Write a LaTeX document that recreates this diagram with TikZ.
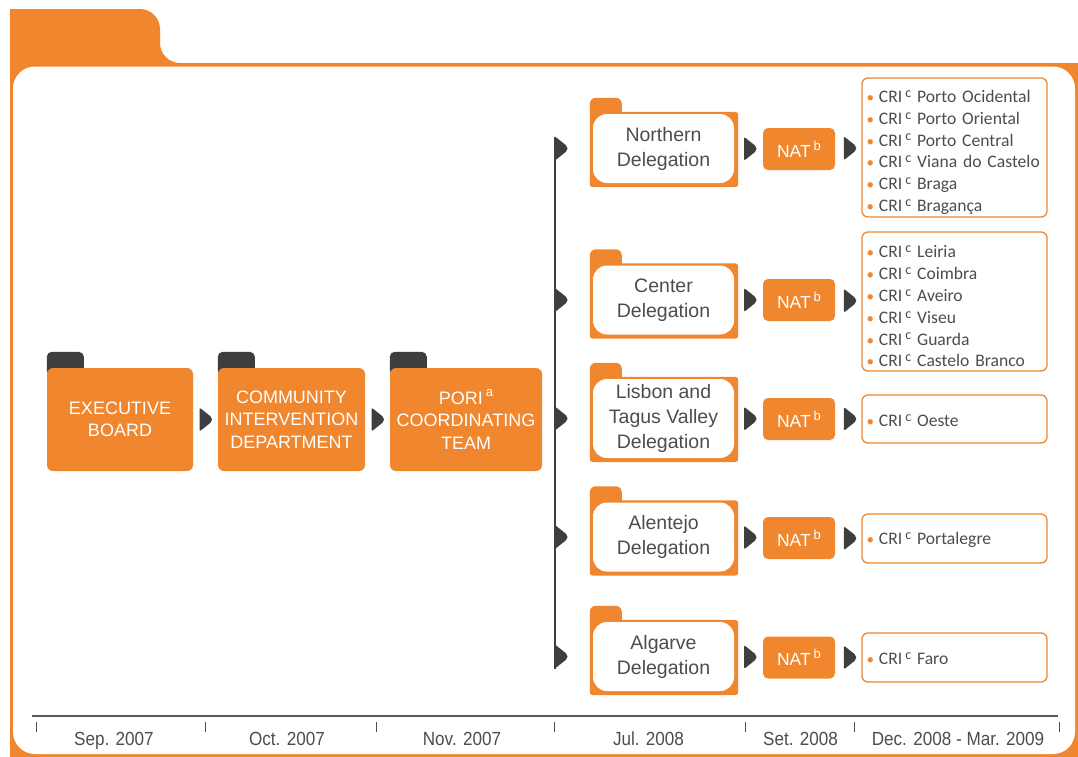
\documentclass[tikz,border=0pt]{standalone}
\usepackage{fontspec}
\setmainfont{Liberation Sans}
\newfontfamily\listfont{Carlito}
\newfontfamily\tlfont[FakeStretch=0.9]{Liberation Sans}
\usetikzlibrary{calc}
\pgfdeclarelayer{bottom}
\pgfdeclarelayer{under}
\pgfsetlayers{bottom,under,main}
\definecolor{orng}{RGB}{240,134,46}
\definecolor{dk}{RGB}{62,62,62}
\definecolor{gtxt}{RGB}{77,77,77}
\newcommand\sups[1]{\raisebox{0.42em}{\fontsize{13}{13}\selectfont #1}}
\newcommand\cri[1]{\mbox{{\color{orng}\fontsize{15}{15}\selectfont•}\hspace{5pt}CRI\hspace{3pt}\raisebox{0.3em}{\fontsize{14}{14}\selectfont c}\ #1}}
\tikzset{
  mainbox/.style={fill=orng, rounded corners=6pt, text=white, align=center, minimum height=103pt, inner sep=0pt, font=\fontsize{18}{22.5}\selectfont},
  delbox/.style={fill=white, rounded corners=14pt, text=gtxt, align=center, minimum width=141pt, minimum height=69pt, inner sep=0pt, font=\fontsize{19.5}{25}\selectfont},
  natbox/.style={fill=orng, rounded corners=5pt, text=white, minimum width=72pt, minimum height=42pt, inner sep=0pt, font=\fontsize{17.5}{20}\selectfont},
  listbox/.style={draw=orng, line width=1.3pt, fill=white, rounded corners=6pt, text=gtxt, align=left, text width=176pt, inner xsep=4.5pt, inner ysep=0pt, font=\listfont\fontsize{17.6}{21.8}\selectfont},
  tri/.pic={\fill[dk, rounded corners=2pt] (-6,-12) -- (6.5,-2) -- (6.5,2) -- (-6,12) -- cycle;},
  tickln/.style={draw=gtxt, line width=0.9pt},
  tlabel/.style={text=gtxt, anchor=base, inner sep=0pt, font=\tlfont\fontsize{19}{19}\selectfont}
}
\begin{document}
\begin{tikzpicture}[x=1pt,y=-1pt]
\useasboundingbox (0,0) rectangle (1078,756);
\begin{pgfonlayer}{bottom}
\fill[white] (0,0) rectangle (1078,756);
% frame
\fill[orng] (10,760) -- (10,9) -- (140,9) .. controls (151,9) and (160,18) .. (160,29) -- (160,43) .. controls (160,54) and (169,63) .. (180,63) -- (1090,63) -- (1090,760) -- cycle;
\fill[white, rounded corners=22pt] (13,66.5) rectangle (1075,754);
\end{pgfonlayer}

% main boxes
\node[mainbox, minimum width=146pt] (exec) at (120,419.5) {EXECUTIVE\\BOARD};
\node[mainbox, minimum width=147pt] (cid) at (291.5,419.5) {COMMUNITY\\INTERVENTION\\DEPARTMENT};
\node[mainbox, minimum width=152pt] (pori) at (466,419.5) {PORI\,\sups{a}\\COORDINATING\\TEAM};
\begin{pgfonlayer}{under}
\foreach \n in {exec,cid,pori}
  \fill[dk, rounded corners=5pt] ($(\n.north west)+(0,8)$) -- ($(\n.north west)+(0,-16)$) -- ($(\n.north west)+(37,-16)$) -- ($(\n.north west)+(37,8)$) -- cycle;
\end{pgfonlayer}
\pic at ($(exec.east)!0.5!(cid.west)$) {tri};
\pic at ($(cid.east)!0.5!(pori.west)$) {tri};

% delegations
\node[delbox] (dN) at (663.5,148.5) {Northern\\Delegation};
\node[delbox] (dC) at (663.5,300) {Center\\Delegation};
\node[delbox, minimum height=79pt] (dL) at (663.5,418.5) {Lisbon and\\Tagus Valley\\Delegation};
\node[delbox] (dA) at (663.5,537) {Alentejo\\Delegation};
\node[delbox] (dG) at (663.5,656.5) {Algarve\\Delegation};
\begin{pgfonlayer}{under}
\foreach \n in {dN,dC,dL,dA,dG}{
  \fill[orng, rounded corners=3pt] ($(\n.north west)+(-3,-2)$) rectangle ($(\n.south east)+(4,4)$);
  \fill[orng, rounded corners=6pt] ($(\n.north west)+(-3,6)$) -- ($(\n.north west)+(-3,-16)$) -- ($(\n.north west)+(29,-16)$) -- ($(\n.north west)+(29,6)$) -- cycle;
}
\end{pgfonlayer}

% NAT
\node[natbox] (nN) at (799,149) {NAT\,\sups{b}};
\node[natbox] (nC) at (799,300) {NAT\,\sups{b}};
\node[natbox] (nL) at (799,419) {NAT\,\sups{b}};
\node[natbox] (nA) at (799,538) {NAT\,\sups{b}};
\node[natbox] (nG) at (799,657.5) {NAT\,\sups{b}};

% lists
\node[listbox, minimum height=139pt] (lN) at (954.5,147.5) {\rule{0pt}{22pt}\cri{Porto Ocidental}\\\cri{Porto Oriental}\\\cri{Porto Central}\\\cri{Viana do Castelo}\\\cri{Braga}\\\cri{Bragança}};
\node[listbox, minimum height=139pt] (lC) at (954.5,301.5) {\rule{0pt}{22pt}\cri{Leiria}\\\cri{Coimbra}\\\cri{Aveiro}\\\cri{Viseu}\\\cri{Guarda}\\\cri{Castelo Branco}};
\node[listbox, minimum height=48pt] (lL) at (954.5,419) {\rule{0pt}{15pt}\cri{Oeste}};
\node[listbox, minimum height=49pt] (lA) at (954.5,538.5) {\rule{0pt}{15pt}\cri{Portalegre}};
\node[listbox, minimum height=49pt] (lG) at (954.5,657.5) {\rule{0pt}{15pt}\cri{Faro}};

% row arrows
\coordinate (vx) at (561,0);
\draw[dk, line width=1.6pt] ($(vx |- dN)+(-6,-12)$) -- ($(vx |- dG)+(-6,12)$);
\foreach \d/\t/\l in {dN/nN/lN, dC/nC/lC, dL/nL/lL, dA/nA/lA, dG/nG/lG}{
  \pic at (vx |- \d) {tri};
  \pic at ($(\d.east)!0.5!(\t.west)+(1.5,0)$) {tri};
  \pic at ($(\t.east)!0.5!(\l.west)+(1.5,0)$) {tri};
}

% timeline
\coordinate (t0) at (32,716);
\coordinate (t1) at (1058,716);
\draw[dk!85, line width=2.5pt] (t0) -- (t1);
\foreach \x in {36,205,376,554,745,854,1059}
  \draw[tickln] (\x,722) -- (\x,732);
\node[tlabel] (s1) at (114,745) {Sep. 2007};
\node[tlabel] (s2) at (287,745) {Oct. 2007};
\node[tlabel] (s3) at (462,745) {Nov. 2007};
\node[tlabel] (s4) at (648.5,745) {Jul. 2008};
\node[tlabel] (s5) at (800.5,745) {Set. 2008};
\node[tlabel] (s6) at (958,745) {Dec. 2008 - Mar. 2009};
\end{tikzpicture}
\end{document}
